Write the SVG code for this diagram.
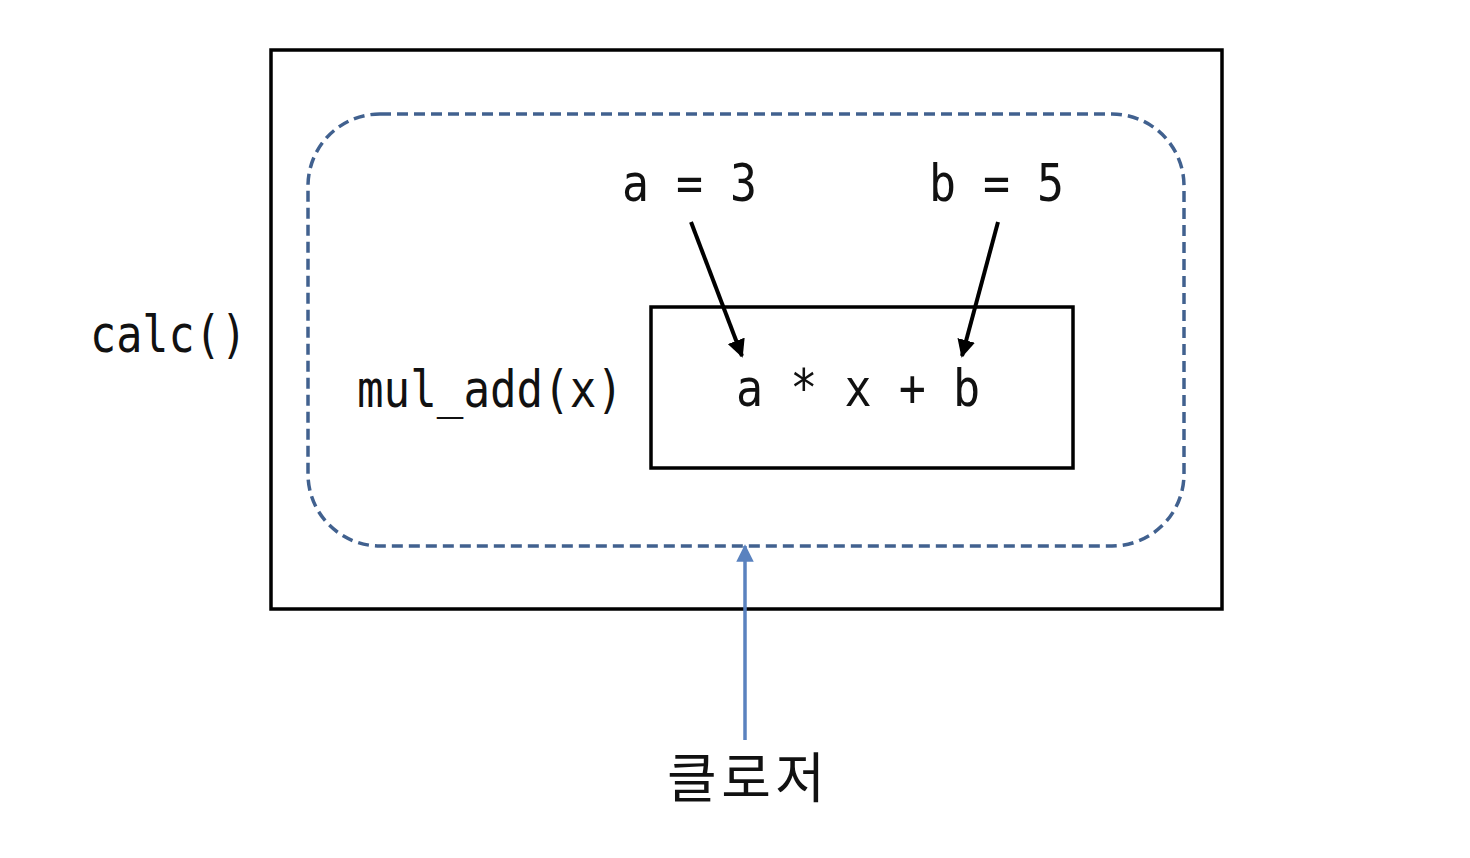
<svg xmlns="http://www.w3.org/2000/svg" width="1470" height="858" viewBox="0 0 1470 858">
<defs>
<style>
.code{font-family:"DejaVu Sans Mono","Liberation Mono",monospace;font-size:52px;fill:#111}
.ko{font-family:"Noto Sans CJK KR","Noto Sans",sans-serif;font-size:54px;fill:#111}
.box{fill:none;stroke:#000;stroke-width:3.5}
</style>
<marker id="ab" viewBox="0 0 10 10" refX="9" refY="5" markerWidth="4.5" markerHeight="4.5" orient="auto" markerUnits="strokeWidth"><path d="M0,0 L10,5 L0,10 z" fill="#000"/></marker>
<marker id="abl" viewBox="0 0 10 10" refX="9" refY="5" markerWidth="5" markerHeight="5" orient="auto" markerUnits="strokeWidth"><path d="M0,0 L10,5 L0,10 z" fill="#5a82bf"/></marker>
</defs>
<rect width="1470" height="858" fill="#fff"/>
<g id="calc">
<rect class="box" x="271" y="50" width="951" height="559"/>
<text class="code" x="90" y="352" textLength="157" lengthAdjust="spacingAndGlyphs">calc()</text>
</g>
<g id="closure">
<rect x="308" y="114" width="876" height="432" rx="72" ry="72" fill="none" stroke="#41618f" stroke-width="3.5" stroke-dasharray="11,6"/>
</g>
<g id="mul_add">
<rect class="box" x="651" y="307" width="422" height="161"/>
<text class="code" x="357" y="407" textLength="266" lengthAdjust="spacingAndGlyphs">mul_add(x)</text>
<text class="code" x="736" y="406" textLength="244" lengthAdjust="spacingAndGlyphs">a * x + b</text>
</g>
<g id="var_a"><text class="code" x="622" y="201" textLength="135" lengthAdjust="spacingAndGlyphs">a = 3</text></g>
<g id="var_b"><text class="code" x="929" y="201" textLength="135" lengthAdjust="spacingAndGlyphs">b = 5</text></g>
<g id="label"><text class="ko" x="667" y="798" textLength="158" lengthAdjust="spacing">클로저</text></g>
<g id="connectors">
<line x1="691" y1="222" x2="742" y2="356" stroke="#000" stroke-width="4" marker-end="url(#ab)"/>
<line x1="998" y1="222" x2="962" y2="356" stroke="#000" stroke-width="4" marker-end="url(#ab)"/>
<line x1="745" y1="740" x2="745" y2="546" stroke="#5a82bf" stroke-width="3.5" marker-end="url(#abl)"/>
</g>
</svg>
